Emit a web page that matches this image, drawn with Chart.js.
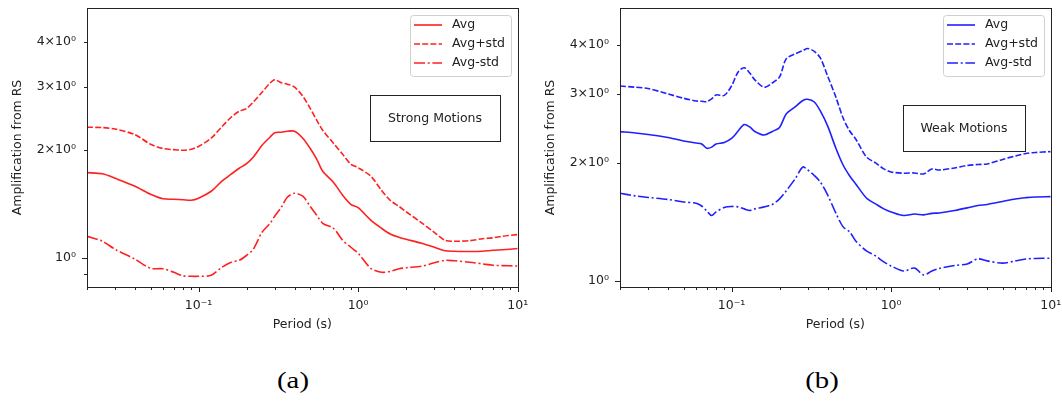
<!DOCTYPE html>
<html>
<head>
<meta charset="utf-8">
<script src="https://cdn.jsdelivr.net/npm/chart.js@4.4.1/dist/chart.umd.min.js"></script>
<style>
  body { margin: 0; background: #fff; width: 1062px; height: 403px; position: relative; overflow: hidden; }
  canvas { position: absolute; top: 0; }
  #strongChart { left: 0; }
  #weakChart { left: 530px; }
  .cap { position: absolute; top: 369px; font: 23px 'Liberation Serif', 'Times New Roman', serif; line-height: 23px; color: #000; transform: translateX(-50%) scaleX(1.25); }
</style>
</head>
<body>
<canvas id="strongChart" width="530" height="345"></canvas>
<canvas id="weakChart" width="532" height="345"></canvas>
<div class="cap" style="left:293px">(a)</div>
<div class="cap" style="left:822px">(b)</div>
<script>
// periods (s) and amplification values
const periodsStrong = [0.02, 0.025, 0.03, 0.04, 0.05, 0.06, 0.07, 0.08, 0.09, 0.1, 0.12, 0.14, 0.16, 0.18, 0.2, 0.22, 0.25, 0.28, 0.3, 0.33, 0.36, 0.4, 0.45, 0.5, 0.55, 0.6, 0.7, 0.8, 0.9, 1.0, 1.2, 1.4, 1.6, 1.8, 2, 2.5, 3, 3.5, 4, 5, 6, 7, 8, 10];
const strongAvg = [1.729, 1.716, 1.667, 1.584, 1.505, 1.462, 1.457, 1.453, 1.448, 1.467, 1.534, 1.636, 1.711, 1.778, 1.831, 1.908, 2.060, 2.169, 2.233, 2.240, 2.254, 2.254, 2.155, 2.021, 1.885, 1.744, 1.626, 1.495, 1.411, 1.380, 1.274, 1.210, 1.164, 1.142, 1.127, 1.099, 1.071, 1.047, 1.044, 1.042, 1.044, 1.051, 1.054, 1.062];
const strongPlus = [2.313, 2.308, 2.286, 2.205, 2.074, 2.018, 2.003, 1.996, 2.009, 2.045, 2.156, 2.321, 2.466, 2.563, 2.608, 2.716, 2.896, 3.068, 3.138, 3.078, 3.049, 2.990, 2.822, 2.614, 2.420, 2.270, 2.088, 1.945, 1.825, 1.784, 1.690, 1.544, 1.443, 1.393, 1.345, 1.253, 1.179, 1.120, 1.113, 1.117, 1.131, 1.138, 1.149, 1.162];
const strongMinus = [1.149, 1.113, 1.057, 0.992, 0.936, 0.933, 0.912, 0.892, 0.889, 0.889, 0.895, 0.942, 0.973, 0.985, 1.017, 1.057, 1.179, 1.247, 1.307, 1.384, 1.476, 1.514, 1.486, 1.393, 1.315, 1.249, 1.210, 1.120, 1.071, 1.031, 0.936, 0.912, 0.918, 0.933, 0.939, 0.948, 0.970, 0.985, 0.982, 0.973, 0.963, 0.954, 0.952, 0.950];

const periodsWeak = [0.02, 0.025, 0.03, 0.04, 0.05, 0.06, 0.065, 0.07, 0.075, 0.08, 0.09, 0.1, 0.11, 0.12, 0.13, 0.14, 0.16, 0.18, 0.2, 0.22, 0.25, 0.28, 0.3, 0.33, 0.36, 0.4, 0.45, 0.5, 0.55, 0.6, 0.7, 0.8, 0.9, 1.0, 1.2, 1.4, 1.6, 1.8, 2, 2.5, 3, 3.5, 4, 5, 6, 7, 8, 10];
const weakAvg = [2.404, 2.385, 2.364, 2.323, 2.276, 2.249, 2.236, 2.180, 2.195, 2.236, 2.256, 2.309, 2.413, 2.507, 2.471, 2.406, 2.357, 2.406, 2.464, 2.667, 2.779, 2.887, 2.907, 2.861, 2.715, 2.486, 2.184, 1.976, 1.853, 1.768, 1.628, 1.572, 1.527, 1.500, 1.469, 1.482, 1.474, 1.487, 1.491, 1.513, 1.536, 1.558, 1.567, 1.595, 1.619, 1.631, 1.638, 1.641];
const weakPlus = [3.144, 3.120, 3.098, 3.000, 2.925, 2.879, 2.874, 2.867, 2.913, 2.983, 2.974, 3.144, 3.413, 3.500, 3.393, 3.257, 3.120, 3.200, 3.315, 3.685, 3.795, 3.869, 3.919, 3.851, 3.707, 3.334, 2.948, 2.605, 2.413, 2.302, 2.072, 2.000, 1.931, 1.897, 1.883, 1.886, 1.875, 1.931, 1.919, 1.942, 1.970, 1.982, 1.988, 2.042, 2.084, 2.115, 2.127, 2.137];
const weakMinus = [1.674, 1.648, 1.633, 1.614, 1.590, 1.578, 1.553, 1.508, 1.469, 1.500, 1.540, 1.549, 1.545, 1.527, 1.513, 1.527, 1.545, 1.567, 1.619, 1.697, 1.821, 1.953, 1.919, 1.858, 1.789, 1.657, 1.491, 1.374, 1.334, 1.265, 1.193, 1.158, 1.118, 1.092, 1.060, 1.079, 1.036, 1.060, 1.076, 1.095, 1.105, 1.138, 1.125, 1.110, 1.125, 1.138, 1.141, 1.143];

const seriesNames = ['Avg', 'Avg+std', 'Avg-std'];

// tick positions and labels
const xTickValues = [0.02, 0.03, 0.04, 0.05, 0.06, 0.07, 0.08, 0.09, 0.1, 0.2, 0.3, 0.4, 0.5, 0.6, 0.7, 0.8, 0.9, 1, 2, 3, 4, 5, 6, 7, 8, 9, 10];
const xMajorValues = [0.1, 1, 10];
const xMajorLabels = ['10\u207B\u00B9', '10\u2070', '10\u00B9'];
const yTicksStrong = [0.9, 1, 2, 3, 4];
const yTicksWeak = [1, 2, 3, 4];
const yLabelValues = [1, 2, 3, 4];
const yLabels = ['10\u2070', '2\u00D710\u2070', '3\u00D710\u2070', '4\u00D710\u2070'];

const FONT = "'DejaVu Sans', sans-serif";
const TEXT = '#222';

const toPoints = (xs, ys) => xs.map((x, i) => ({ x, y: ys[i] }));

// frame, tick marks, boxed legend and text box (matplotlib look)
const decorations = {
  id: 'decorations',
  afterDraw(chart, args, opts) {
    const { ctx, chartArea: a, scales } = chart;
    ctx.save();
    ctx.strokeStyle = TEXT;
    ctx.lineWidth = 1;
    ctx.setLineDash([]);
    ctx.strokeRect(Math.round(a.left) + 0.5, Math.round(a.top) + 0.5, Math.round(a.right - a.left), Math.round(a.bottom - a.top));

    ctx.beginPath();
    scales.x.ticks.forEach(t => {
      const px = Math.round(scales.x.getPixelForValue(t.value)) + 0.5;
      const len = t.major ? 5 : 3;
      ctx.moveTo(px, a.bottom);
      ctx.lineTo(px, a.bottom + len);
    });
    scales.y.ticks.forEach(t => {
      const py = Math.round(scales.y.getPixelForValue(t.value)) + 0.5;
      const len = t.major ? 5 : 3;
      ctx.moveTo(a.left, py);
      ctx.lineTo(a.left - len, py);
    });
    ctx.stroke();

    // legend
    const L = opts.legend;
    ctx.fillStyle = 'rgba(255,255,255,0.85)';
    ctx.strokeStyle = '#d0d0d0';
    ctx.beginPath();
    ctx.roundRect(L.x + 0.5, L.y + 0.5, L.w, L.h, 3);
    ctx.fill();
    ctx.stroke();
    ctx.font = '12.5px ' + FONT;
    ctx.textBaseline = 'middle';
    ctx.textAlign = 'left';
    chart.data.datasets.forEach((ds, i) => {
      const yy = L.y + 10 + i * 19;
      ctx.strokeStyle = ds.borderColor;
      ctx.lineWidth = ds.borderWidth;
      ctx.setLineDash(ds.borderDash || []);
      ctx.beginPath();
      ctx.moveTo(L.x + 4, yy);
      ctx.lineTo(L.x + 32, yy);
      ctx.stroke();
      ctx.setLineDash([]);
      ctx.fillStyle = TEXT;
      ctx.fillText(ds.label, L.x + 42, yy);
    });

    // text box
    const N = opts.note;
    ctx.strokeStyle = TEXT;
    ctx.lineWidth = 1;
    ctx.strokeRect(N.x + 0.5, N.y + 0.5, N.w, N.h);
    ctx.fillStyle = TEXT;
    ctx.textAlign = 'center';
    ctx.fillText(N.text, N.x + N.w / 2, N.y + N.h / 2 + 1);
    ctx.restore();
  }
};

function makeChart(id, cfg) {
  const lineStyles = [[], [6, 2.2], [11, 2.7, 2, 2.7]];
  const values = [cfg.avg, cfg.plus, cfg.minus];
  return new Chart(document.getElementById(id), {
    type: 'line',
    data: {
      datasets: values.map((v, i) => ({
        label: seriesNames[i],
        data: toPoints(cfg.periods, v),
        borderColor: cfg.color,
        borderWidth: 1.6,
        borderDash: lineStyles[i],
        pointRadius: 0,
        tension: 0.3,
        fill: false
      }))
    },
    options: {
      responsive: false,
      animation: false,
      layout: { padding: { top: 8, right: cfg.padRight, bottom: 0, left: 0 } },
      plugins: {
        legend: { display: false },
        tooltip: { enabled: false },
        decorations: { legend: cfg.legend, note: cfg.note }
      },
      scales: {
        x: {
          type: 'logarithmic',
          min: 0.02,
          max: 10,
          afterFit: s => { s.height = 58; s.paddingLeft = 0; s.paddingRight = 0; },
          afterBuildTicks: s => {
            s.ticks = xTickValues.map(v => ({ value: v, major: xMajorValues.includes(v) }));
          },
          grid: { drawOnChartArea: false, drawTicks: true, tickLength: 5, tickColor: 'rgba(0,0,0,0)' },
          border: { display: false },
          ticks: {
            autoSkip: false,
            maxRotation: 0,
            padding: 6,
            color: TEXT,
            font: { family: FONT, size: 12.5 },
            callback: v => {
              const k = xMajorValues.indexOf(v);
              return k >= 0 ? xMajorLabels[k] : '';
            }
          },
          title: {
            display: true,
            text: 'Period (s)',
            color: TEXT,
            font: { family: FONT, size: 12.5 },
            padding: { top: 0, bottom: 12.5 }
          }
        },
        y: {
          type: 'logarithmic',
          min: cfg.yMin,
          max: 4.97,
          afterFit: s => { s.width = cfg.yWidth; s.paddingTop = 0; s.paddingBottom = 0; },
          afterBuildTicks: s => {
            s.ticks = cfg.yTicks.map(v => ({ value: v, major: v === 1 }));
          },
          grid: { drawOnChartArea: false, drawTicks: true, tickLength: 5, tickColor: 'rgba(0,0,0,0)' },
          border: { display: false },
          ticks: {
            autoSkip: false,
            padding: 6,
            color: TEXT,
            font: { family: FONT, size: 12.5 },
            callback: v => {
              const k = yLabelValues.indexOf(v);
              return k >= 0 ? yLabels[k] : '';
            }
          },
          title: {
            display: true,
            text: 'Amplification from RS',
            color: TEXT,
            font: { family: FONT, size: 12.5 },
            padding: { top: cfg.yTitlePad, bottom: 0 }
          }
        }
      }
    },
    plugins: [decorations]
  });
}

makeChart('strongChart', {
  periods: periodsStrong, avg: strongAvg, plus: strongPlus, minus: strongMinus,
  color: '#ff2020', yMin: 0.83, yTicks: yTicksStrong,
  yWidth: 87, padRight: 12.3, yTitlePad: 10.5,
  legend: { x: 410, y: 15, w: 101, h: 61 },
  note: { x: 370, y: 95, w: 130, h: 46, text: 'Strong Motions' }
});

makeChart('weakChart', {
  periods: periodsWeak, avg: weakAvg, plus: weakPlus, minus: weakMinus,
  color: '#2020ff', yMin: 0.965, yTicks: yTicksWeak,
  yWidth: 90, padRight: 11.3, yTitlePad: 13,
  legend: { x: 413, y: 15, w: 101, h: 61 },
  note: { x: 373, y: 105, w: 122, h: 46, text: 'Weak Motions' }
});
</script>
</body>
</html>
